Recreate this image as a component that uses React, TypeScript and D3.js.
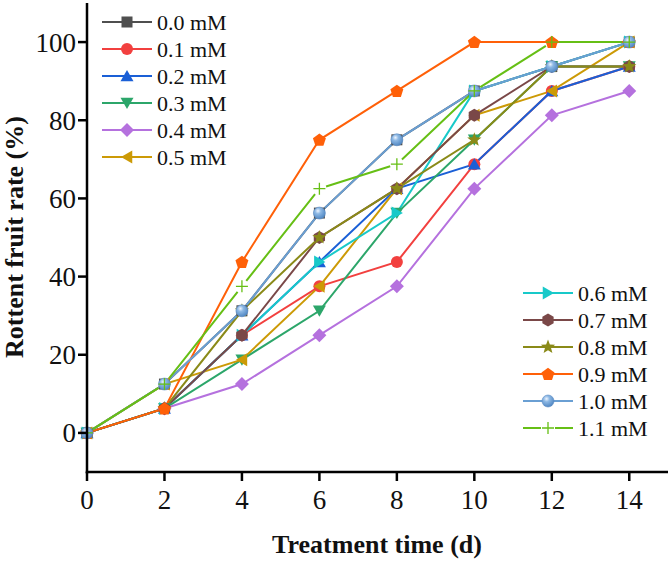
import React from "react";
import * as d3 from "d3";

const days = [0, 2, 4, 6, 8, 10, 12, 14];
const seriesNames = ["0.0 mM", "0.1 mM", "0.2 mM", "0.3 mM", "0.4 mM", "0.5 mM", "0.6 mM", "0.7 mM", "0.8 mM", "0.9 mM", "1.0 mM", "1.1 mM"];
const s00 = [0, 12.5, 31.25, 56.25, 75, 87.5, 93.75, 100];
const s01 = [0, 6.25, 25, 37.5, 43.75, 68.75, 87.5, 93.75];
const s02 = [0, 6.25, 25, 43.75, 62.5, 68.75, 87.5, 93.75];
const s03 = [0, 6.25, 18.75, 31.25, 56.25, 75, 93.75, 93.75];
const s04 = [0, 6.25, 12.5, 25, 37.5, 62.5, 81.25, 87.5];
const s05 = [0, 12.5, 18.75, 37.5, 62.5, 81.25, 87.5, 100];
const s06 = [0, 6.25, 25, 43.75, 56.25, 87.5, 93.75, 100];
const s07 = [0, 6.25, 25, 50, 62.5, 81.25, 93.75, 93.75];
const s08 = [0, 6.25, 31.25, 50, 62.5, 75, 93.75, 93.75];
const s09 = [0, 6.25, 43.75, 75, 87.5, 100, 100, 100];
const s10 = [0, 12.5, 31.25, 56.25, 75, 87.5, 93.75, 100];
const s11 = [0, 12.5, 37.5, 62.5, 68.75, 87.5, 100, 100];
const seriesValues = [s00, s01, s02, s03, s04, s05, s06, s07, s08, s09, s10, s11];
const colors = ["#4f4f4f", "#f2403f", "#1a5fd6", "#2ca66a", "#b571de", "#cc9a06", "#18c9c9", "#7a4848", "#8a8a18", "#ff6008", "#6a9fd3", "#66bf15"];
const markers = ["square", "circle", "triUp", "triDown", "diamond", "triLeft", "triRight", "hexagon", "star", "pentagon", "sphere", "plus"];
const xTicks = [0, 2, 4, 6, 8, 10, 12, 14];
const yTicks = [0, 20, 40, 60, 80, 100];

const W = 672, H = 561;
const x = d3.scaleLinear().domain([0, 15]).range([87, 668]);
const y = d3.scaleLinear().domain([-10, 110]).range([472, 3]);

function poly(n: number, r: number, rot: number) {
  const pts: string[] = [];
  for (let i = 0; i < n; i++) {
    const a = rot + (i * 2 * Math.PI) / n;
    pts.push(`${(r * Math.cos(a)).toFixed(2)},${(r * Math.sin(a)).toFixed(2)}`);
  }
  return "M" + pts.join("L") + "Z";
}
function star(ro: number, ri: number) {
  const pts: string[] = [];
  for (let i = 0; i < 10; i++) {
    const r = i % 2 === 0 ? ro : ri;
    const a = -Math.PI / 2 + (i * Math.PI) / 5;
    pts.push(`${(r * Math.cos(a)).toFixed(2)},${(r * Math.sin(a)).toFixed(2)}`);
  }
  return "M" + pts.join("L") + "Z";
}

function Marker({ type, color, cx, cy }: { type: string; color: string; cx: number; cy: number }) {
  const t = `translate(${cx},${cy})`;
  const r = 6;
  switch (type) {
    case "square":
      return <rect x={cx - 5.5} y={cy - 5.5} width={11} height={11} fill={color} />;
    case "circle":
      return <circle cx={cx} cy={cy} r={r} fill={color} />;
    case "sphere":
      return <circle cx={cx} cy={cy} r={r} fill="url(#sphereGrad)" stroke="#5a8cc4" strokeWidth={0.6} />;
    case "triUp":
      return <path transform={t + " translate(0,1.5)"} d={poly(3, 7.5, -Math.PI / 2)} fill={color} />;
    case "triDown":
      return <path transform={t + " translate(0,-1.5)"} d={poly(3, 7.5, Math.PI / 2)} fill={color} />;
    case "triLeft":
      return <path transform={t + " translate(1.5,0)"} d={poly(3, 7.5, Math.PI)} fill={color} />;
    case "triRight":
      return <path transform={t + " translate(-1.5,0)"} d={poly(3, 7.5, 0)} fill={color} />;
    case "diamond":
      return <path transform={t} d={poly(4, 7, -Math.PI / 2)} fill={color} />;
    case "hexagon":
      return <path transform={t} d={poly(6, 6.5, -Math.PI / 2)} fill={color} />;
    case "pentagon":
      return <path transform={t + " translate(0,0.5)"} d={poly(5, 6.8, -Math.PI / 2)} fill={color} />;
    case "star":
      return <path transform={t} d={star(7.5, 3.2)} fill={color} />;
    case "plus":
      return <path transform={t} d="M-6,0H6M0,-6V6" stroke={color} strokeWidth={1.3} fill="none" />;
    default:
      return null;
  }
}

function SeriesLine({ vals, color, gap }: { vals: number[]; color: string; gap: boolean }) {
  const pts = days.map((d, i) => [x(d), y(vals[i])] as [number, number]);
  if (!gap) {
    const line = d3.line();
    return <path d={line(pts) || ""} fill="none" stroke={color} strokeWidth={2} />;
  }
  const segs: string[] = [];
  const g = 7;
  for (let i = 0; i < pts.length - 1; i++) {
    const [x1, y1] = pts[i];
    const [x2, y2] = pts[i + 1];
    const L = Math.hypot(x2 - x1, y2 - y1);
    if (L <= 2 * g) continue;
    const ux = (x2 - x1) / L, uy = (y2 - y1) / L;
    segs.push(`M${x1 + ux * g},${y1 + uy * g}L${x2 - ux * g},${y2 - uy * g}`);
  }
  return <path d={segs.join("")} fill="none" stroke={color} strokeWidth={2} />;
}

const font = "'Liberation Serif', 'Times New Roman', serif";

function LegendItem({ i, lx, ly }: { i: number; lx: number; ly: number }) {
  const c = colors[i];
  const gap = markers[i] === "plus";
  return (
    <g>
      {gap ? (
        <path d={`M${lx},${ly}H${lx + 18}M${lx + 32},${ly}H${lx + 50}`} stroke={c} strokeWidth={2} />
      ) : (
        <line x1={lx} x2={lx + 50} y1={ly} y2={ly} stroke={c} strokeWidth={2} />
      )}
      <Marker type={markers[i]} color={c} cx={lx + 25} cy={ly} />
      <text x={lx + 55} y={ly} dy="0.35em" fontSize={22} fontFamily={font} fill="#111">
        {seriesNames[i]}
      </text>
    </g>
  );
}

export default function App() {
  return (
    <svg width={W} height={H} style={{ position: "absolute", left: 0, top: 0, background: "#fff" }}>
      <defs>
        <radialGradient id="sphereGrad" cx="0.38" cy="0.32" r="0.7">
          <stop offset="0" stopColor="#eef5ff" />
          <stop offset="0.35" stopColor="#8db8e4" />
          <stop offset="1" stopColor="#4f86c2" />
        </radialGradient>
      </defs>
      <rect width={W} height={H} fill="#fff" />
      {seriesValues.map((vals, si) => (
        <SeriesLine key={"l" + si} vals={vals} color={colors[si]} gap={markers[si] === "plus"} />
      ))}
      {seriesValues.map((vals, si) => (
        <g key={"m" + si}>
          {days.map((d, i) => (
            <Marker key={i} type={markers[si]} color={colors[si]} cx={x(d)} cy={y(vals[i])} />
          ))}
        </g>
      ))}
      <line x1={x(0)} x2={x(0)} y1={y(110)} y2={y(-10) + 1.25} stroke="#000" strokeWidth={2.5} />
      <line x1={x(0) - 1.25} x2={x(15)} y1={y(-10)} y2={y(-10)} stroke="#000" strokeWidth={2.5} />
      {yTicks.map((t) => (
        <g key={"yt" + t}>
          <line x1={x(0) - 9} x2={x(0)} y1={y(t)} y2={y(t)} stroke="#000" strokeWidth={2.5} />
          <text x={76} y={y(t)} dy="0.35em" textAnchor="end" fontSize={27} fontFamily={font} fill="#111">
            {t}
          </text>
        </g>
      ))}
      {xTicks.map((t) => (
        <g key={"xt" + t}>
          <line x1={x(t)} x2={x(t)} y1={y(-10)} y2={y(-10) + 9} stroke="#000" strokeWidth={2.5} />
          <text x={x(t)} y={509} textAnchor="middle" fontSize={27} fontFamily={font} fill="#111">
            {t}
          </text>
        </g>
      ))}
      <text x={377} y={553} textAnchor="middle" fontSize={26} fontWeight="bold" fontFamily={font} fill="#111">
        Treatment time (d)
      </text>
      <text transform={`translate(23,237) rotate(-90)`} textAnchor="middle" fontSize={26} fontWeight="bold" fontFamily={font} fill="#111">
        Rottent fruit rate (%)
      </text>
      {[0, 1, 2, 3, 4, 5].map((i) => (
        <LegendItem key={"lg" + i} i={i} lx={102} ly={22 + 27 * i} />
      ))}
      {[6, 7, 8, 9, 10, 11].map((i, k) => (
        <LegendItem key={"lg" + i} i={i} lx={523} ly={293 + 27 * k} />
      ))}
    </svg>
  );
}
